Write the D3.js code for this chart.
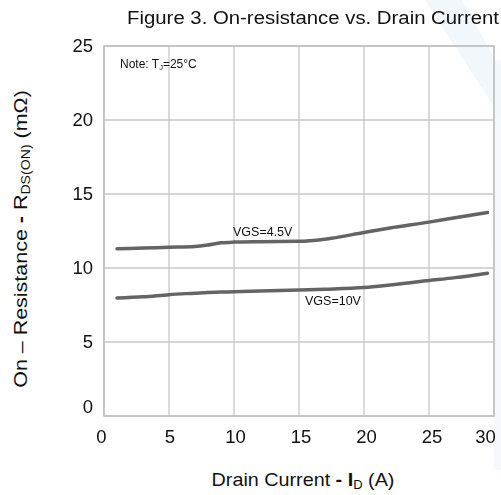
<!DOCTYPE html>
<html>
<head>
<meta charset="utf-8">
<script src="https://cdn.jsdelivr.net/npm/d3@7"></script>
<style>
  html, body { margin: 0; padding: 0; background: #fff; }
  svg { display: block; font-family: "Liberation Sans", Arial, sans-serif; }
</style>
</head>
<body>
<svg id="chart" width="501" height="495"></svg>
<script>
// Drain current (A) sample points and on-resistance (mΩ) for each gate drive
const currentA = [1, 3, 5, 7, 8, 9, 10, 12, 15, 17, 20, 22, 25, 27, 29.5];
const rdsVgs45 = [11.3, 11.35, 11.4, 11.45, 11.55, 11.7, 11.75, 11.78, 11.8, 11.95, 12.4, 12.7, 13.1, 13.4, 13.75];
const rdsVgs10 = [7.97, 8.05, 8.2, 8.3, 8.35, 8.37, 8.4, 8.45, 8.52, 8.57, 8.68, 8.85, 9.15, 9.35, 9.65];
const xTicks = [0, 5, 10, 15, 20, 25, 30];
const yTicks = [0, 5, 10, 15, 20, 25];

const svg = d3.select("#chart");
const plot = { left: 104, right: 494, top: 46, bottom: 416 };

const x = d3.scaleLinear().domain([0, 30]).range([plot.left, plot.right]);
const y = d3.scaleLinear().domain([0, 25]).range([plot.bottom, plot.top]);

// faint background watermark strokes
const wm = svg.append("g").attr("fill", "#dbe7f6").attr("opacity", 0.35);
wm.append("path").attr("d", "M425,0 L462,0 L501,70 L501,118 Z");
wm.append("path").attr("d", "M492,60 L501,60 L501,470 L494,470 Z").attr("opacity", 0.8);

// grid
const grid = svg.append("g").attr("stroke", "#c8c8c8").attr("stroke-width", 1.3);
grid.selectAll(".vx").data(xTicks).join("line")
  .attr("x1", d => x(d)).attr("x2", d => x(d))
  .attr("y1", plot.top).attr("y2", plot.bottom);
grid.selectAll(".hy").data(yTicks).join("line")
  .attr("x1", plot.left).attr("x2", plot.right)
  .attr("y1", d => y(d)).attr("y2", d => y(d));
svg.append("rect")
  .attr("x", plot.left).attr("y", plot.top)
  .attr("width", plot.right - plot.left).attr("height", plot.bottom - plot.top)
  .attr("fill", "none").attr("stroke", "#c0c0c0").attr("stroke-width", 1.5);

// axes (labels only, no domain or tick marks)
const xAxis = svg.append("g").attr("transform", `translate(0,${plot.bottom})`)
  .call(d3.axisBottom(x).tickValues(xTicks).tickSize(0).tickPadding(14));
const yAxis = svg.append("g").attr("transform", `translate(${plot.left},0)`)
  .call(d3.axisLeft(y).tickValues(yTicks).tickSize(0).tickPadding(11));
[xAxis, yAxis].forEach(a => {
  a.select(".domain").remove();
  a.selectAll("text").attr("font-size", 18.5).attr("fill", "#111")
    .attr("font-family", "Liberation Sans, Arial, sans-serif");
});
// corner and edge labels are nudged inward
xAxis.selectAll("text").attr("dx", d => d === 0 ? -3 : d === 30 ? -9 : d * 0.1);
yAxis.selectAll("text").filter(d => d === 0).attr("dy", "-0.2em");

// curves
const line = d3.line().x(d => x(d[0])).y(d => y(d[1])).curve(d3.curveMonotoneX);
[rdsVgs45, rdsVgs10].forEach(series => {
  svg.append("path")
    .datum(currentA.map((c, i) => [c, series[i]]))
    .attr("d", line)
    .attr("fill", "none").attr("stroke", "#646464")
    .attr("stroke-width", 3.5).attr("stroke-linecap", "round");
});

// curve labels
svg.append("text").attr("x", 233).attr("y", 236).attr("font-size", 12.5).attr("fill", "#111").text("VGS=4.5V");
svg.append("text").attr("x", 305).attr("y", 305).attr("font-size", 12.5).attr("fill", "#111").text("VGS=10V");

// note
const note = svg.append("text").attr("x", 120).attr("y", 68).attr("font-size", 12).attr("fill", "#111");
note.append("tspan").text("Note: T");
note.append("tspan").attr("font-size", 7.5).attr("dy", 2).text("J");
note.append("tspan").attr("dy", -2).text("=25°C");

// title (slightly widened lettering)
svg.append("g").attr("transform", "translate(313,24) scale(1.1,1)")
  .append("text").attr("text-anchor", "middle")
  .attr("font-size", 18.5).attr("fill", "#111")
  .text("Figure 3. On-resistance vs. Drain Current");

// x axis title
const xt = svg.append("g").attr("transform", "translate(303,486) scale(1.04,1)")
  .append("text").attr("text-anchor", "middle")
  .attr("font-size", 19).attr("fill", "#111");
xt.append("tspan").text("Drain Current ");
xt.append("tspan").attr("font-weight", "bold").text("- I");
xt.append("tspan").attr("font-size", 12.5).attr("dy", 3).text("D");
xt.append("tspan").attr("dy", -3).text(" (A)");

// y axis title
const yt = svg.append("g").attr("transform", "translate(27,239) rotate(-90) scale(1.13,1)")
  .append("text").attr("text-anchor", "middle")
  .attr("font-size", 19).attr("fill", "#111");
yt.append("tspan").text("On – Resistance ");
yt.append("tspan").attr("font-weight", "bold").text("-");
yt.append("tspan").text(" R");
yt.append("tspan").attr("font-size", 12.5).attr("dy", 3).text("DS(ON)");
yt.append("tspan").attr("dy", -3).text(" (mΩ)");
</script>
</body>
</html>
